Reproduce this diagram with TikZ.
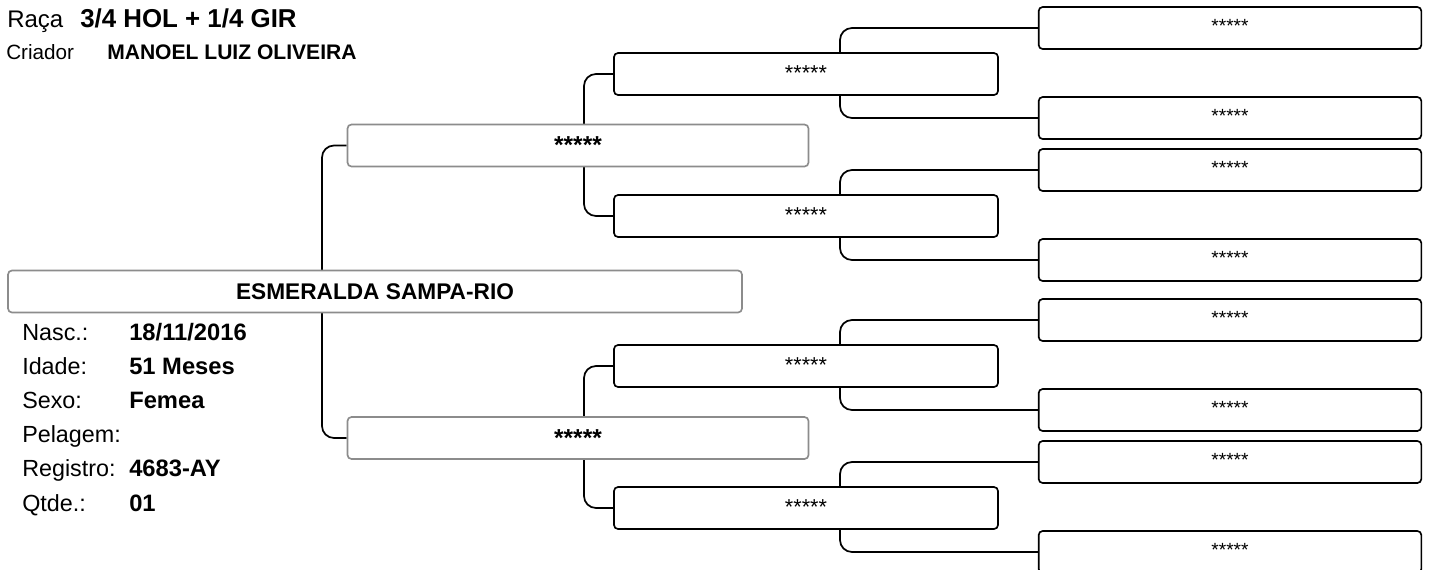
\documentclass[tikz,border=0pt]{standalone}
\usepackage{fontspec}
\setmainfont{Liberation Sans}
\usepackage{tikz}
\usetikzlibrary{backgrounds}
\definecolor{boxgray}{HTML}{8C8C8C}

\tikzset{
	caixa/.style={fill=white,line width=1.25pt,rounded corners=3pt,inner sep=0pt},
	animalbox/.style={caixa,draw=boxgray,minimum width=550.5pt,minimum height=31.5pt,font=\fontsize{17}{19}\selectfont\bfseries},
	paisbox/.style={caixa,draw=boxgray,minimum width=345.75pt,text height=22pt,text depth=9.5pt,font=\fontsize{18.4}{20}\selectfont\bfseries},
	avosbox/.style={caixa,draw=black,minimum width=288pt,text height=20.7pt,text depth=10.8pt,font=\fontsize{16.2}{18}\selectfont},
	bisavosbox/.style={caixa,draw=black,minimum width=287pt,text height=19.3pt,text depth=12.2pt,font=\fontsize{14.3}{16}\selectfont},
	rotulo/.style={anchor=base west,inner sep=0pt,font=\fontsize{17.5}{19}\selectfont},
	valor/.style={rotulo,font=\fontsize{17.8}{19}\selectfont\bfseries},
	link/.style={draw,line width=1.3pt,rounded corners=9pt}
}

\begin{document}
\begin{tikzpicture}[x=0.75pt,y=-0.75pt]
	\useasboundingbox (0,0) rectangle (1430,569);
	% cabecalho
	\node[rotulo,font=\fontsize{18}{20}\selectfont] (raca) at (7,27.3) {Raça};
	\node[valor,font=\fontsize{19.4}{21}\selectfont\bfseries] (racav) at (80,27.3) {3/4 HOL + 1/4 GIR};
	\node[rotulo,font=\fontsize{15.5}{17}\selectfont] (criador) at (6,59.3) {Criador};
	\node[valor,font=\fontsize{15.8}{17}\selectfont\bfseries] (criadorv) at (107,59.3) {MANOEL LUIZ OLIVEIRA};
	% animal
	\node[animalbox] (animal) at (375,291.5) {ESMERALDA SAMPA-RIO};
	\node[rotulo] (nasc) at (22,340) {Nasc.:};
	\node[valor] (nascv) at (129,340) {18/11/2016};
	\node[rotulo] (idade) at (22,374.2) {Idade:};
	\node[valor] (idadev) at (129,374.2) {51 Meses};
	\node[rotulo] (sexo) at (22,408.4) {Sexo:};
	\node[valor] (sexov) at (129,408.4) {Femea};
	\node[rotulo] (pelagem) at (22,442.6) {Pelagem:};
	\node[rotulo] (registro) at (22,476.8) {Registro:};
	\node[valor] (registrov) at (129,476.8) {4683-AY};
	\node[rotulo] (qtde) at (22,511) {Qtde.:};
	\node[valor] (qtdev) at (129,511) {01};
	% pais
	\node[paisbox] (pai) at (578,145.5) {*****};
	\node[paisbox] (mae) at (578,438) {*****};
	% avos
	\node[avosbox] (g1) at (806,74) {*****};
	\node[avosbox] (g2) at (806,216) {*****};
	\node[avosbox] (g3) at (806,366) {*****};
	\node[avosbox] (g4) at (806,508) {*****};
	% bisavos
	\node[bisavosbox] (b1) at (1230,28) {*****};
	\node[bisavosbox] (b2) at (1230,118) {*****};
	\node[bisavosbox] (b3) at (1230,170) {*****};
	\node[bisavosbox] (b4) at (1230,260) {*****};
	\node[bisavosbox] (b5) at (1230,320) {*****};
	\node[bisavosbox] (b6) at (1230,410) {*****};
	\node[bisavosbox] (b7) at (1230,462) {*****};
	\node[bisavosbox] (b8) at (1230,552) {*****};
	% ligacoes
	\begin{pgfonlayer}{background}
		\draw[link] (pai.west) -| (322,291.5) |- (mae.west);
		\draw[link] (g1.west) -| (584,145.5) |- (g2.west);
		\draw[link] (g3.west) -| (584,438) |- (g4.west);
		\draw[link] (b1.west) -| (840,74) |- (b2.west);
		\draw[link] (b3.west) -| (840,216) |- (b4.west);
		\draw[link] (b5.west) -| (840,366) |- (b6.west);
		\draw[link] (b7.west) -| (840,508) |- (b8.west);
	\end{pgfonlayer}
\end{tikzpicture}
\end{document}
